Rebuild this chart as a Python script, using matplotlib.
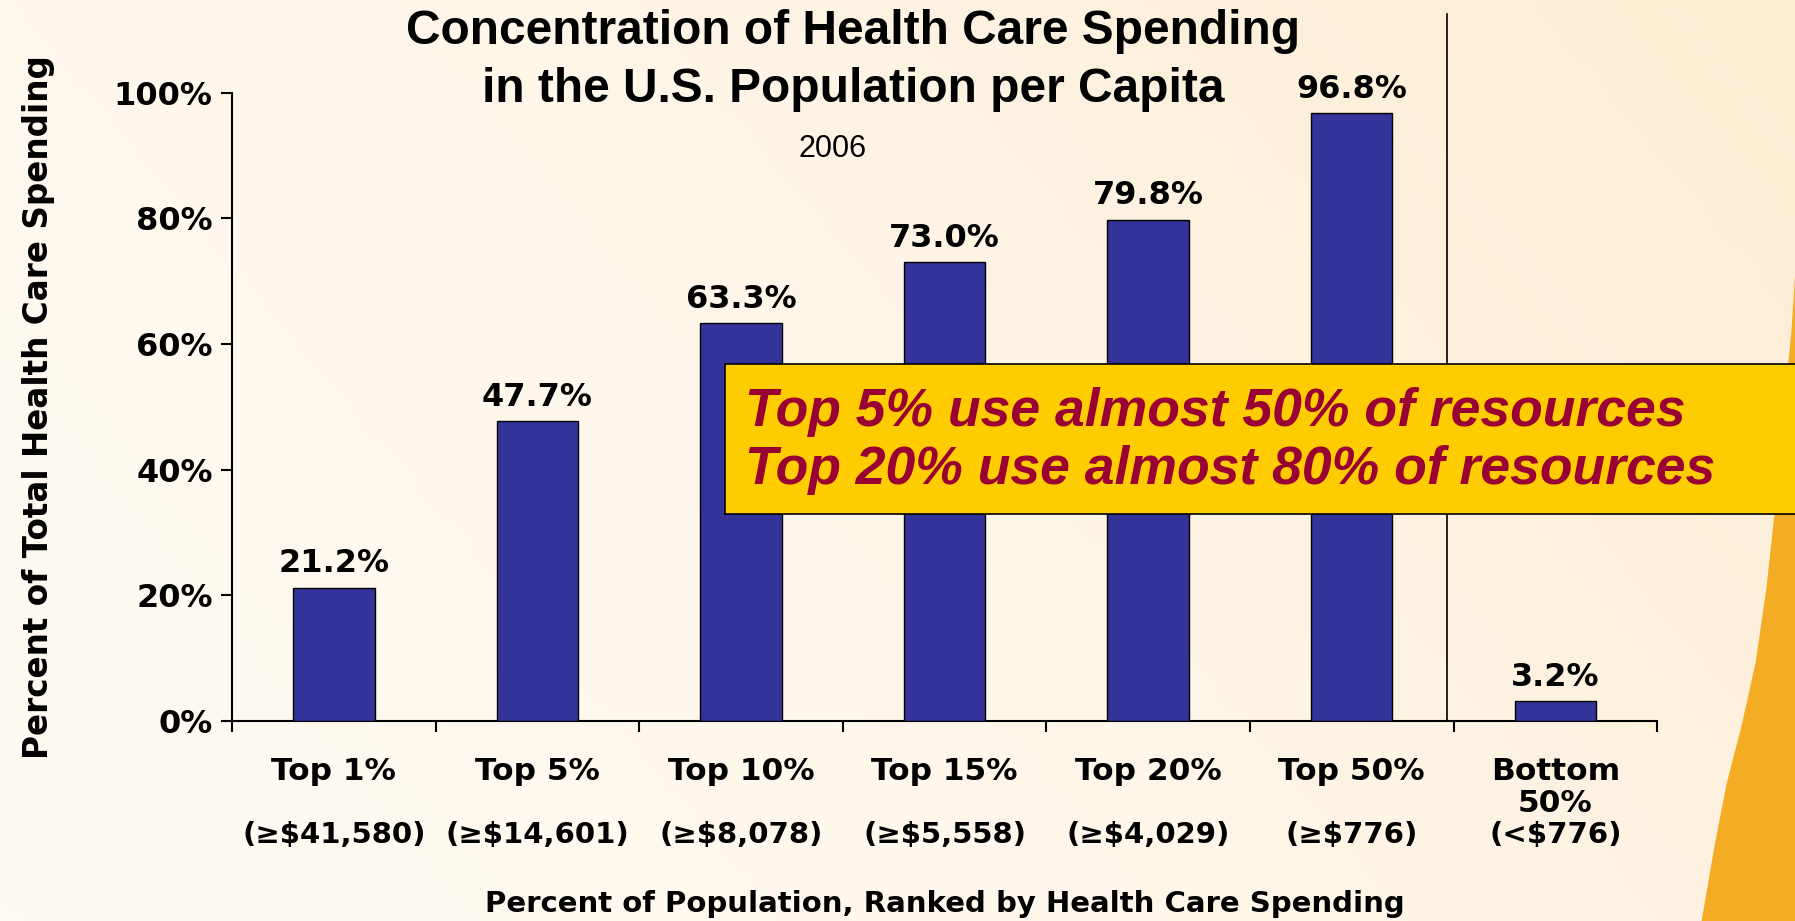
import numpy as np
import matplotlib
matplotlib.use("Agg")
import matplotlib.pyplot as plt
from matplotlib.colors import LinearSegmentedColormap
from matplotlib.patches import Polygon

# share of total spending held by each population group
groups = ['Top 1%', 'Top 5%', 'Top 10%', 'Top 15%', 'Top 20%', 'Top 50%', 'Bottom\n50%']
thresholds = ['(≥$41,580)', '(≥$14,601)', '(≥$8,078)', '(≥$5,558)', '(≥$4,029)', '(≥$776)', '(<$776)']
shares = [21.2, 47.7, 63.3, 73.0, 79.8, 96.8, 3.2]
y_ticks = [0, 20, 40, 60, 80, 100]

bar_color = '#333399'
label_font = 'DejaVu Sans'

fig = plt.figure(figsize=(17.95, 9.21), dpi=100)

# slide background: cream wash with an orange swoosh on the right
bg = fig.add_axes([0, 0, 1, 1], zorder=-10)
bg.set_xlim(0, 1)
bg.set_ylim(0, 1)
bg.axis('off')
cmap = LinearSegmentedColormap.from_list('cream', ['#FFFBF4', '#FEF6E9', '#FCECD3'])
gx, gy = np.meshgrid(np.linspace(0, 1, 200), np.linspace(0, 1, 100))
bg.imshow(gx * 0.7 + gy * 0.3, cmap=cmap, extent=[0, 1, 0, 1], origin='lower', aspect='auto')
swoosh = Polygon([(0.948, 0.0), (0.955, 0.08), (0.962, 0.15), (0.970, 0.21), (0.978, 0.28),
                  (0.984, 0.36), (0.989, 0.45), (0.994, 0.56), (0.998, 0.64), (1.0, 0.70),
                  (1.0, 0.0)],
                 closed=True, facecolor='#F3AC24', edgecolor='none')
bg.add_patch(swoosh)

ax = fig.add_axes([0.1293, 0.2172, 0.7939, 0.682])
ax.patch.set_alpha(0)

x = np.arange(len(groups))
bars = ax.bar(x, shares, width=0.4, color=bar_color, edgecolor='black', linewidth=1.0, zorder=3)

for xi, v in zip(x, shares):
    ax.annotate(f'{v:.1f}%', (xi, v), xytext=(0, 6), textcoords='offset points',
                ha='center', va='bottom', fontsize=23, fontweight='bold', family=label_font)

ax.set_xlim(-0.5, len(groups) - 0.5)
ax.set_ylim(0, 100)
ax.set_yticks(y_ticks)
ax.set_yticklabels([f'{t}%' for t in y_ticks], fontsize=23, fontweight='bold', family=label_font)
ax.set_xticks(np.arange(len(groups) + 1) - 0.5)
ax.set_xticklabels([])
ax.tick_params(axis='both', direction='out', length=8, width=1.5, color='black')
ax.tick_params(axis='y', pad=6)

for s in ['top', 'right']:
    ax.spines[s].set_visible(False)
for s in ['left', 'bottom']:
    ax.spines[s].set_linewidth(1.5)

# two-row category labels under the axis
trans = ax.get_xaxis_transform()
for xi, g, t in zip(x, groups, thresholds):
    ax.text(xi, -0.057, g, transform=trans, ha='center', va='top', fontsize=22.5,
            fontweight='bold', family=label_font, linespacing=1.15)
    ax.text(xi, -0.159, t, transform=trans, ha='center', va='top', fontsize=21,
            fontweight='bold', family=label_font)

# divider between the top and bottom halves
ax.plot([5.47, 5.47], [0, 1.126], transform=trans, color='black', lw=1.2, clip_on=False)

ax.text(0.5, -0.291, 'Percent of Population, Ranked by Health Care Spending', transform=ax.transAxes,
        ha='center', va='center', fontsize=21, fontweight='bold', family=label_font)
fig.text(0.0215, 0.558, 'Percent of Total Health Care Spending', rotation=90, ha='center', va='center',
         fontsize=23.5, fontweight='bold', family=label_font)

fig.text(853 / 1795, 1 - 32 / 921, 'Concentration of Health Care Spending', ha='center', va='center',
         fontsize=34.5, fontweight='bold', family='Liberation Sans')
fig.text(853 / 1795, 1 - 89 / 921, 'in the U.S. Population per Capita', ha='center', va='center',
         fontsize=34.5, fontweight='bold', family='Liberation Sans')
fig.text(833 / 1795, 1 - 149 / 921, '2006', ha='center', va='center', fontsize=22, family='Liberation Sans')

# call-out box
fig.text(745 / 1795, 1 - 441 / 921,
         'Top 5% use almost 50% of resources\nTop 20% use almost 80% of resources',
         ha='left', va='center', fontsize=38.5, fontweight='bold', style='italic',
         family='Liberation Sans', color='#990033', linespacing=1.22, zorder=6)
box = plt.Rectangle((725 / 1795, 1 - 514 / 921), 1.0, 150 / 921, transform=fig.transFigure,
                    facecolor='#FFCC00', edgecolor='black', linewidth=1.2, zorder=5)
fig.patches.append(box)

fig.savefig('out.png', dpi=100)
